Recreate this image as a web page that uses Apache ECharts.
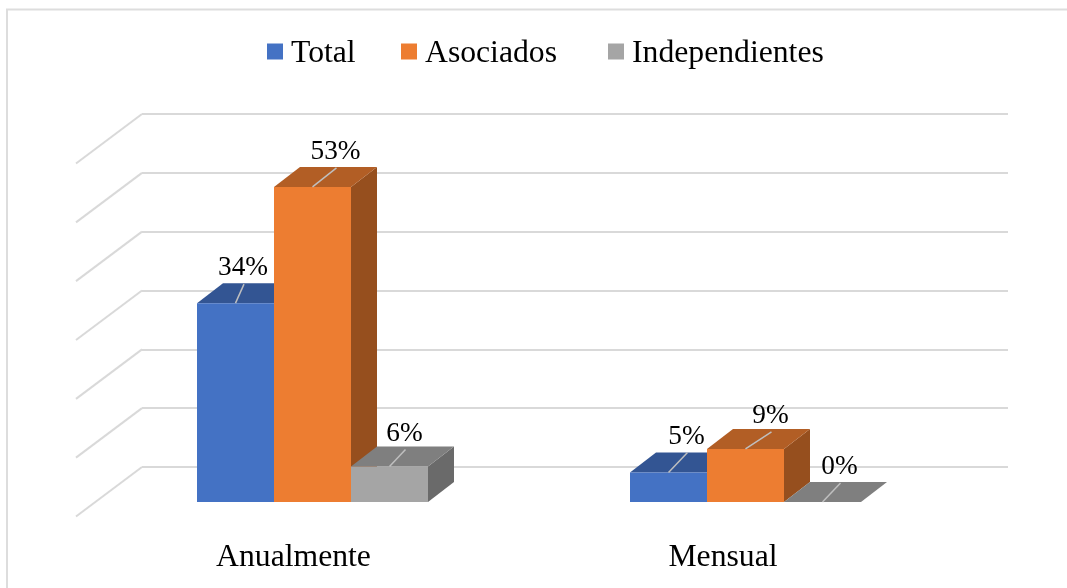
<!DOCTYPE html>
<html>
<head>
<meta charset="utf-8">
<style>html,body{margin:0;padding:0;background:#fff}#c{width:1067px;height:588px}</style>
<script src="https://cdn.jsdelivr.net/npm/echarts@6/dist/echarts.min.js"></script>
</head>
<body>
<div id="c"></div>
<script>
const categories = ['Anualmente', 'Mensual'];
const total = [33.7, 5];
const asociados = [53.4, 9];
const independientes = [6, 0];
const seriesNames = ['Total', 'Asociados', 'Independientes'];
const tickValues = [0, 10, 20, 30, 40, 50, 60];

// Hand-placed label offsets from the bar's top-front centre, by series then category
const labelNudge = [
  [[7.5, -37], [18, -38]],
  [[23, -37], [25, -35]],
  [[15, -35], [17, -37]]
];
const categoryLabelPadding = [[0, 0, 0, 2], [0, 5, 0, 0]];
const colors = [
  {front: '#4472C4', top: '#335593', side: '#2B4A7E'},
  {front: '#ED7D31', top: '#B25E25', side: '#964F1E'},
  {front: '#A5A5A5', top: '#7F7F7F', side: '#6A6A6A'}
];
const FONT = '"Liberation Serif","Times New Roman",serif';
const DEPTH = [26, -20];
const BAR_W = 77;

function fmt(v) { return Math.round(v) + '%'; }

function barSeries(name, values, si) {
  return {
    name: name,
    type: 'custom',
    xAxisIndex: 0,
    yAxisIndex: 0,
    z: 3 + si,
    itemStyle: {color: colors[si].front},
    data: values.map((v, i) => [i, v]),
    encode: {x: 0, y: 1},
    renderItem: function (params, api) {
      const ci = api.value(0), v = api.value(1);
      const top = api.coord([ci, v]);
      const base = api.coord([ci, 0]);
      const x0 = top[0] + (si - 1.5) * BAR_W;
      const x1 = x0 + BAR_W;
      const [dx, dy] = DEPTH;
      const c = colors[si];
      const cx = (x0 + x1) / 2;
      const n = labelNudge[si][ci];
      const lx = cx + n[0], ly = top[1] + n[1];
      return {
        type: 'group',
        children: [
          {type: 'polygon', shape: {points: [[x1, top[1]], [x1 + dx, top[1] + dy], [x1 + dx, base[1] + dy], [x1, base[1]]]}, style: {fill: c.side}},
          {type: 'polygon', shape: {points: [[x0, top[1]], [x1, top[1]], [x1 + dx, top[1] + dy], [x0 + dx, top[1] + dy]]}, style: {fill: c.top}},
          {type: 'rect', shape: {x: x0, y: top[1], width: BAR_W, height: base[1] - top[1]}, style: {fill: c.front}},
          {type: 'line', shape: {x1: cx, y1: top[1], x2: lx + 1, y2: ly + 18}, style: {stroke: '#BFBFBF', lineWidth: 1.5}},
          {type: 'text', x: lx, y: ly + 2, style: {text: fmt(v), fill: '#000', font: '27.3px ' + FONT, align: 'center', verticalAlign: 'middle'}}
        ]
      };
    }
  };
}

const legendLefts = [262, 396, 603];

const option = {
  backgroundColor: '#fff',
  animation: false,
  legend: seriesNames.map((n, i) => ({
    data: [n],
    left: legendLefts[i],
    top: 33,
    icon: 'rect',
    itemWidth: 16,
    itemHeight: 16,
    itemGap: 0,
    selectedMode: false,
    formatter: '{t|{name}}',
    textStyle: {
      rich: {t: {fontFamily: FONT, fontSize: 31.7, color: '#000', padding: [5, 0, 0, 3]}}
    }
  })),
  grid: [
    {left: 96, width: 866, top: 148, height: 354},   // bars plane
    {left: 142, width: 866, top: 114, height: 353},  // back wall
    {left: 76, width: 866, top: 163, height: 354}    // front plane, category labels
  ],
  xAxis: [
    {gridIndex: 0, type: 'category', data: categories, axisLine: {show: false}, axisTick: {show: false}, axisLabel: {show: false}},
    {gridIndex: 1, type: 'value', min: 0, max: 1, show: false},
    {gridIndex: 2, type: 'category',
     data: categories.map((c, i) => ({value: c, textStyle: {padding: categoryLabelPadding[i]}})),
     axisLine: {show: false}, axisTick: {show: false},
     axisLabel: {fontFamily: FONT, fontSize: 31.7, color: '#000', margin: 25}}
  ],
  yAxis: [
    {gridIndex: 0, type: 'value', min: 0, max: 60, interval: 10, show: false},
    {gridIndex: 1, type: 'value', min: 0, max: 60, interval: 10, axisLine: {show: false}, axisTick: {show: false}, axisLabel: {show: false},
     splitLine: {show: true, lineStyle: {color: '#D9D9D9', width: 2}}},
    {gridIndex: 2, type: 'value', min: 0, max: 60, interval: 10, show: false}
  ],
  graphic: [{
    type: 'polyline', z: 0, silent: true,
    shape: {points: [[7, 588], [7, 9.5], [1067, 9.5]]},
    style: {fill: 'none', stroke: '#DDDDDD', lineWidth: 2}
  }],
  series: [
    {
      type: 'custom', xAxisIndex: 1, yAxisIndex: 1, z: 1, silent: true,
      data: tickValues.map(v => [0, v]),
      encode: {x: 0, y: 1},
      renderItem: function (params, api) {
        const p = api.coord([0, api.value(1)]);
        return {type: 'line', shape: {x1: p[0], y1: p[1], x2: p[0] - 66, y2: p[1] + 49.5}, style: {stroke: '#D9D9D9', lineWidth: 2}};
      }
    },
    barSeries(seriesNames[0], total, 0),
    barSeries(seriesNames[1], asociados, 1),
    barSeries(seriesNames[2], independientes, 2)
  ]
};

echarts.init(document.getElementById('c'), null, {renderer: 'canvas'}).setOption(option);
</script>
</body>
</html>
